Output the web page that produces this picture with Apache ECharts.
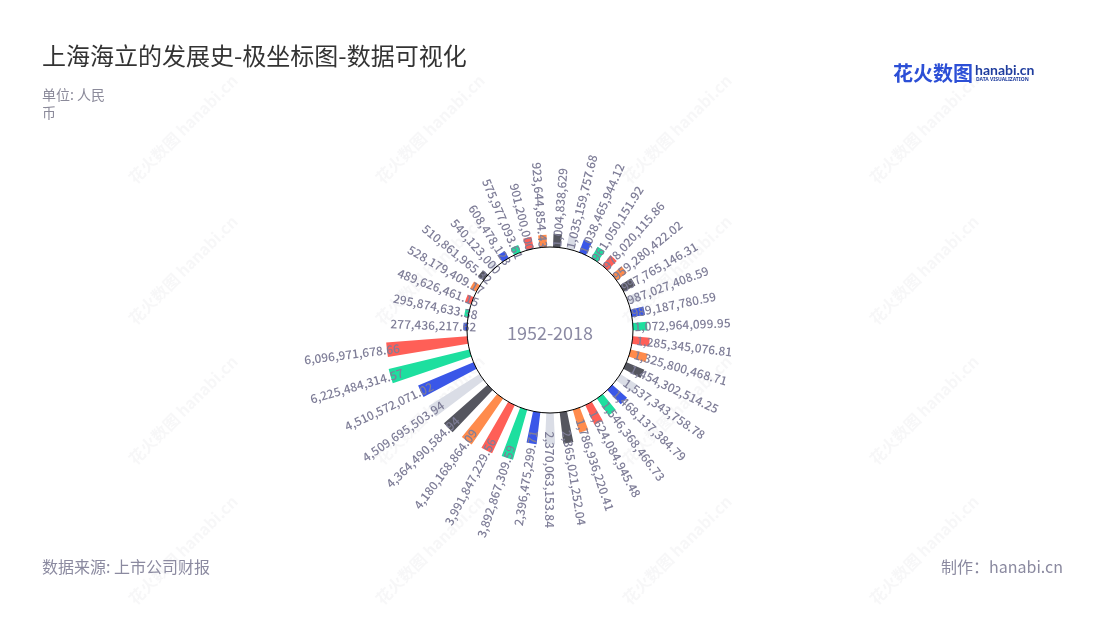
<!DOCTYPE html>
<html>
<head>
<meta charset="utf-8">
<script src="https://cdn.jsdelivr.net/npm/echarts@6/dist/echarts.min.js"></script>
<style>
html,body{margin:0;padding:0;background:#fff;}
#main{width:1100px;height:620px;}
</style>
</head>
<body>
<div id="main"></div>
<script>
// ---- data (clockwise from 12 o'clock) ----
const categories = ['1','2','3','4','5','6','7','8','9','10','11','12','13','14','15','16','17','18','19','20','21','22','23','24','25','26','27','28','29','30','31','32','33','34','35','36','37','38','39'];
const values = [
  1004838629, 1035159757.68, 1038465944.12, 961050151.92, 978020115.86, 959280422.02,
  997765146.31, 987027408.59, 989187780.59, 1072964099.95, 1285345076.81, 1325800468.71,
  1454302514.25, 1537343758.78, 1468137384.79, 1546368466.73, 1624084945.48, 1786936220.41,
  2365021252.04, 2370063153.84, 2396475299.71, 3892867309.59, 3991847229.56, 4180168864.09,
  4364490584.94, 4509695503.94, 4510572071.02, 6225484314.57, 6096971678.66,
  277436217.62, 295874633.38, 489626461.15, 528179409.17, 510861965.32, 540123000,
  608478123, 575977093.61, 901200000, 923644854.43
];
const centerLabel = '1952-2018';
const titleText = '上海海立的发展史-极坐标图-数据可视化';
const unitText = '单位: 人民\n币';
const sourceText = '数据来源: 上市公司财报';
const makerText = '制作：hanabi.cn';

// ---- styles ----
const palette = ['#55565f', '#dadde6', '#3a57e8', '#1ddf9f', '#ff5f57', '#ff8b4c'];
const colorIdx = [0,1,2,3,4,5,0,1,2,3,4,5,0,1,2,3,4,5,0,1,2,3,4,5,0,1,2,3,4,2,3,4,5,0,1,2,3,4,5];
const labelColor = '#7f7e98';
const CX = 550, CY = 330, R0 = 83, R1 = 166;

const fmt = new Intl.NumberFormat('en-US', {maximumFractionDigits: 2});
const N = values.length;
const step = 360 / N;
const seriesData = values.map((v, i) => {
  let th = 90 - (i + 0.5) * step;
  while (th <= -180) th += 360;
  const right = Math.cos(th * Math.PI / 180) >= 0;
  let rot = right ? th : (th > 0 ? th - 180 : th + 180);
  return {
    value: v,
    itemStyle: {color: palette[colorIdx[i]]},
    // polar bar label rotation is applied as radians
    label: {rotate: rot * Math.PI / 180, align: right ? 'left' : 'right', verticalAlign: 'middle'}
  };
});

// watermarks
const wmCols = [183, 430, 677, 924];
const wmRows = [129, 270, 410, 550];
const wm = [];
wmRows.forEach(y => wmCols.forEach(x => {
  wm.push({
    type: 'text', x: x, y: y, rotation: Math.PI / 4, z: 0, silent: true,
    style: {text: '花火数图 hanabi.cn', fill: 'rgba(150,150,160,0.08)', font: 'bold 16px "Noto Sans CJK SC"', align: 'center', verticalAlign: 'middle'}
  });
}));

const chart = echarts.init(document.getElementById('main'));
chart.setOption({
  backgroundColor: '#fff',
  animation: false,
  textStyle: {fontFamily: '"Noto Sans CJK SC", "Noto Sans", sans-serif'},
  title: [
    {text: titleText, left: 37, top: 39, textStyle: {fontSize: 24, fontWeight: 'normal', color: '#333'}},
    {text: unitText, left: 37, top: 81, textStyle: {fontSize: 14, fontWeight: 'normal', color: '#8b8a9a', lineHeight: 18}},
    {text: sourceText, left: 37, top: 554, textStyle: {fontSize: 16, fontWeight: 'normal', color: '#8b8aa0'}},
    {text: makerText, right: 32, top: 554, textStyle: {fontSize: 16, fontWeight: 'normal', color: '#8b8aa0'}}
  ],
  polar: {center: [CX, CY], radius: [R0, R1]},
  angleAxis: {
    type: 'category', data: categories, startAngle: 90, clockwise: true,
    axisLine: {show: false}, axisTick: {show: false}, axisLabel: {show: false}, splitLine: {show: false}
  },
  radiusAxis: {
    type: 'value', min: 0, max: 'dataMax',
    axisLine: {show: false}, axisTick: {show: false}, axisLabel: {show: false}, splitLine: {show: false}
  },
  series: [{
    type: 'bar', coordinateSystem: 'polar', data: seriesData,
    barCategoryGap: '45%', z: 2,
    label: {
      show: true, position: 'end', distance: -13, color: labelColor, fontSize: 12, fontWeight: 500,
      textBorderWidth: 0, textBorderColor: 'transparent',
      formatter: p => fmt.format(p.value)
    }
  }],
  graphic: wm.concat([
    {type: 'circle', shape: {cx: CX, cy: CY, r: R0}, style: {fill: 'none', stroke: '#000', lineWidth: 1}, z: 20, silent: true},
    {type: 'text', x: CX, y: 333, z: 20, style: {text: centerLabel, fill: '#8b8aa3', font: '18px "Noto Sans CJK SC"', align: 'center', verticalAlign: 'middle'}},
    {type: 'text', x: 893, y: 73, z: 20, style: {text: '花火数图', fill: '#2c4fd6', font: 'bold 20px "Noto Sans CJK SC"', align: 'left', verticalAlign: 'middle'}},
    {type: 'text', x: 975, y: 70, z: 20, style: {text: 'hanabi.cn', fill: '#1f3d9e', font: 'bold 14px Lato', align: 'left', verticalAlign: 'middle'}},
    {type: 'text', x: 976, y: 80, z: 20, style: {text: 'DATA VISUALIZATION', fill: '#1f3d9e', font: 'bold 5px "Noto Sans"', align: 'left', verticalAlign: 'middle'}}
  ])
});
</script>
</body>
</html>
